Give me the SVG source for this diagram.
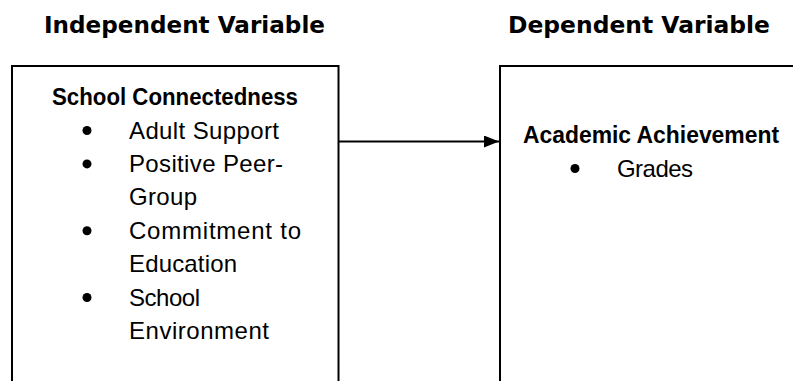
<svg xmlns="http://www.w3.org/2000/svg" width="793" height="381" viewBox="0 0 793 381">
<style>
.title{font-family:"DejaVu Sans","Liberation Sans",sans-serif;font-weight:bold;font-size:23.5px;fill:#000}
.head{font-family:"Liberation Sans",Arial,sans-serif;font-weight:bold;font-size:23px;fill:#000}
.item{font-family:"Liberation Sans",Arial,sans-serif;font-size:24px;fill:#000}
.box{fill:#fff;stroke:#000;stroke-width:2}
.conn{stroke:#000;stroke-width:2;fill:none}
</style>
<defs>
<marker id="arrow" markerWidth="15" markerHeight="12" refX="15" refY="6" orient="auto" markerUnits="userSpaceOnUse">
<path d="M0,0 L15,6 L0,12 Z" fill="#000"/>
</marker>
</defs>
<rect width="793" height="381" fill="#fff"/>
<text class="title" x="44" y="33" textLength="281" lengthAdjust="spacingAndGlyphs">Independent Variable</text>
<text class="title" x="508" y="33" textLength="262" lengthAdjust="spacingAndGlyphs">Dependent Variable</text>
<g id="independent">
<rect class="box" x="12" y="66" width="326.5" height="340"/>
<text class="head" x="52" y="105" textLength="246" lengthAdjust="spacingAndGlyphs">School Connectedness</text>
<circle cx="87" cy="130.5" r="4.5"/>
<text class="item" x="129" y="138.5" textLength="150" lengthAdjust="spacing">Adult Support</text>
<circle cx="87" cy="163.9" r="4.5"/>
<text class="item" x="129" y="171.9" textLength="154" lengthAdjust="spacing">Positive Peer-</text>
<text class="item" x="129" y="205.3" textLength="68" lengthAdjust="spacing">Group</text>
<circle cx="87" cy="230.7" r="4.5"/>
<text class="item" x="129" y="238.7" textLength="172" lengthAdjust="spacing">Commitment to</text>
<text class="item" x="129" y="272.1" textLength="108" lengthAdjust="spacing">Education</text>
<circle cx="87" cy="297.5" r="4.5"/>
<text class="item" x="129" y="305.5" textLength="71" lengthAdjust="spacing">School</text>
<text class="item" x="129" y="338.9" textLength="140" lengthAdjust="spacing">Environment</text>
</g>
<g id="dependent">
<rect class="box" x="500" y="66" width="400" height="340"/>
<text class="head" x="523" y="143" textLength="256" lengthAdjust="spacingAndGlyphs">Academic Achievement</text>
<circle cx="575" cy="168.5" r="4.5"/>
<text class="item" x="617" y="176.5" textLength="76" lengthAdjust="spacing">Grades</text>
</g>
<g id="connectors">
<line class="conn" x1="339" y1="141.5" x2="499" y2="141.5" marker-end="url(#arrow)"/>
</g>
</svg>
